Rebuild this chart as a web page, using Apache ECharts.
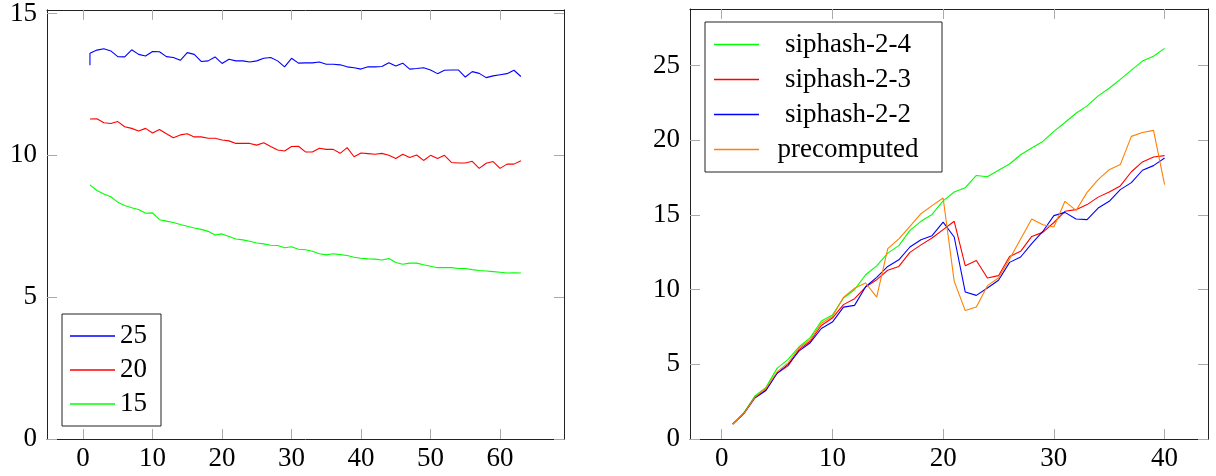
<!DOCTYPE html>
<html><head><meta charset="utf-8">
<script src="https://cdn.jsdelivr.net/npm/echarts@6/dist/echarts.min.js"></script>
<style>html,body{margin:0;padding:0;background:#fff}#c{width:1216px;height:476px}</style>
</head><body><div id="c"></div>
<script>
// ---- data: left panel ----
const leftX = [1,2,3,4,5,6,7,8,9,10,11,12,13,14,15,16,17,18,19,20,21,22,23,24,25,26,27,28,29,30,31,32,33,34,35,36,37,38,39,40,41,42,43,44,45,46,47,48,49,50,51,52,53,54,55,56,57,58,59,60,61,62,63];
const s25Start = 13.18;
const s25 = [13.60,13.71,13.76,13.68,13.48,13.47,13.72,13.56,13.50,13.66,
  13.65,13.48,13.45,13.35,13.62,13.56,13.31,13.33,13.47,13.24,
  13.39,13.33,13.33,13.29,13.33,13.42,13.45,13.33,13.12,13.42,
  13.25,13.26,13.26,13.29,13.21,13.21,13.19,13.12,13.09,13.04,
  13.12,13.12,13.13,13.26,13.15,13.25,13.04,13.06,13.09,13.01,
  12.88,13.00,13.01,13.01,12.76,12.95,12.89,12.74,12.80,12.84,
  12.88,13.00,12.78];
const s20 = [11.28,11.29,11.15,11.12,11.19,11.01,10.95,10.86,10.95,10.79,
  10.91,10.76,10.62,10.72,10.76,10.65,10.65,10.60,10.60,10.54,
  10.51,10.42,10.42,10.42,10.36,10.44,10.31,10.19,10.15,10.31,
  10.32,10.12,10.12,10.25,10.21,10.21,10.07,10.27,9.95,10.08,
  10.06,10.04,10.07,10.00,9.89,10.04,9.92,10.01,9.82,10.00,
  9.89,10.00,9.75,9.73,9.73,9.79,9.54,9.72,9.78,9.54,
  9.69,9.69,9.81];
const s15 = [8.96,8.76,8.64,8.54,8.35,8.23,8.15,8.09,7.96,7.97,
  7.73,7.68,7.63,7.56,7.50,7.44,7.39,7.32,7.19,7.23,
  7.14,7.05,7.02,6.97,6.91,6.88,6.83,6.82,6.74,6.78,
  6.69,6.67,6.62,6.53,6.49,6.53,6.50,6.47,6.41,6.37,
  6.35,6.34,6.31,6.36,6.22,6.16,6.20,6.20,6.14,6.09,
  6.04,6.04,6.04,6.01,6.01,5.97,5.94,5.92,5.90,5.88,
  5.85,5.86,5.85];
const leftNames = ['25','20','15'];
const leftXTicks = [0,10,20,30,40,50,60];
const leftYTicks = [0,5,10,15];

// ---- data: right panel ----
const rightX = [1,2,3,4,5,6,7,8,9,10,11,12,13,14,15,16,17,18,19,20,21,22,23,24,25,26,27,28,29,30,31,32,33,34,35,36,37,38,39,40];
const sip24 = [1.0,1.76,2.88,3.46,4.73,5.33,6.18,6.79,7.90,8.30,
  9.44,10.0,11.0,11.6,12.45,12.95,13.97,14.58,15.04,15.95,
  16.54,16.83,17.65,17.56,18.0,18.42,19.04,19.49,19.93,20.6,
  21.2,21.82,22.31,22.98,23.49,24.09,24.71,25.31,25.64,26.16];
const sip23 = [1.0,1.7,2.8,3.3,4.4,4.9,6.0,6.55,7.6,8.1,
  9.0,9.4,10.18,10.67,11.3,11.56,12.5,13.0,13.46,14.02,
  14.58,11.6,11.96,10.78,10.94,12.23,12.57,13.57,13.84,14.5,
  15.25,15.36,15.7,16.2,16.54,16.95,17.9,18.56,18.89,18.98];
const sip22 = [1.0,1.7,2.75,3.25,4.4,5.0,5.9,6.45,7.4,7.83,
  8.83,8.95,10.2,10.83,11.56,12.0,12.86,13.35,13.62,14.53,
  13.53,9.84,9.62,10.11,10.63,11.83,12.19,13.08,13.9,14.96,
  15.18,14.73,14.69,15.47,15.92,16.7,17.17,18.0,18.31,18.82];
const precomputed = [1.0,1.7,2.8,3.4,4.5,5.1,6.1,6.65,7.75,8.2,
  9.49,10.1,10.45,9.5,12.75,13.4,14.24,15.09,15.63,16.14,
  10.56,8.6,8.84,10.27,10.78,12.05,13.4,14.73,14.35,14.2,
  15.92,15.31,16.52,17.37,18.04,18.38,20.27,20.53,20.67,17.04];
const rightNames = ['siphash-2-4','siphash-2-3','siphash-2-2','precomputed'];
const rightXTicks = [0,10,20,30,40];
const rightYTicks = [0,5,10,15,20,25];

// ---- styles ----
const FONT = 'Liberation Serif';
const FS = 27;
const C_BLUE = '#0000ff', C_RED = '#ff0000', C_GREEN = '#00ff00', C_ORANGE = '#ff8000';
const frameLine = {show:true, onZero:false, lineStyle:{color:'#222', width:1}};

function mkX(grid, min, max, ticks, pos, showLabel){
  return {type:'value', gridIndex:grid, position:pos, min:min, max:max,
    axisLine: frameLine, splitLine:{show:false},
    axisTick:{show:true, inside:true, length:10, customValues:ticks, lineStyle:{color:'#aaa', width:1}},
    axisLabel:{show:showLabel, customValues:ticks, margin:6, color:'#000', fontFamily:FONT, fontSize:FS}};
}
function mkY(grid, min, max, ticks, pos, showLabel){
  return {type:'value', gridIndex:grid, position:pos, min:min, max:max,
    axisLine: frameLine, splitLine:{show:false},
    axisTick:{show:true, inside:true, length:10, customValues:ticks, lineStyle:{color:'#aaa', width:1}},
    axisLabel:{show:showLabel, customValues:ticks, margin:10, color:'#000', fontFamily:FONT, fontSize:FS}};
}
function pairs(xs, ys){ return xs.map((x,i)=>[x, ys[i]]); }
function line(name, data, color, xi, yi){
  return {type:'line', name:name, data:data, xAxisIndex:xi, yAxisIndex:yi,
    showSymbol:false, symbol:'none', silent:true, animation:false,
    lineStyle:{color:color, width:1.1}, itemStyle:{color:color}};
}

const chart = echarts.init(document.getElementById('c'), null, {renderer:'canvas'});
chart.setOption({
  backgroundColor:'#fff',
  animation:false,
  grid:[
    {left:47, top:9, width:517, height:430},
    {left:690, top:9, width:518, height:430}
  ],
  xAxis:[
    mkX(0, -5.18, 69.2, leftXTicks, 'bottom', true),
    mkX(0, -5.18, 69.2, leftXTicks, 'top', false),
    mkX(1, -2.86, 43.92, rightXTicks, 'bottom', true),
    mkX(1, -2.86, 43.92, rightXTicks, 'top', false)
  ],
  yAxis:[
    mkY(0, 0, 15.13, leftYTicks, 'left', true),
    mkY(0, 0, 15.13, leftYTicks, 'right', false),
    mkY(1, 0, 28.8, rightYTicks, 'left', true),
    mkY(1, 0, 28.8, rightYTicks, 'right', false)
  ],
  legend:[
    {data:leftNames, orient:'vertical', left:62, top:314, itemGap:0,
     itemWidth:45, itemHeight:1.5, icon:'rect',
     backgroundColor:'#fff', borderColor:'#222', borderWidth:1, borderRadius:0,
     padding:[5,14,5,8], selectedMode:false,
     textStyle:{fontFamily:FONT, fontSize:FS, color:'#000', lineHeight:34}},
    {data:rightNames, orient:'vertical', left:705, top:22, itemGap:0,
     itemWidth:45, itemHeight:1.5, icon:'rect',
     backgroundColor:'#fff', borderColor:'#222', borderWidth:1, borderRadius:0,
     padding:[5,10,5,9], selectedMode:false,
     formatter: n => '{c|' + n + '}',
     textStyle:{fontFamily:FONT, fontSize:FS, color:'#000', lineHeight:35,
       rich:{c:{width:168, align:'center', fontFamily:FONT, fontSize:FS, color:'#000', lineHeight:35}}}}
  ],
  series:[
    line('25', [[1, s25Start]].concat(pairs(leftX, s25)), C_BLUE, 0, 0),
    line('20', pairs(leftX, s20), C_RED, 0, 0),
    line('15', pairs(leftX, s15), C_GREEN, 0, 0),
    line('siphash-2-4', pairs(rightX, sip24), C_GREEN, 2, 2),
    line('siphash-2-3', pairs(rightX, sip23), C_RED, 2, 2),
    line('siphash-2-2', pairs(rightX, sip22), C_BLUE, 2, 2),
    line('precomputed', pairs(rightX, precomputed), C_ORANGE, 2, 2)
  ]
});
</script></body></html>
